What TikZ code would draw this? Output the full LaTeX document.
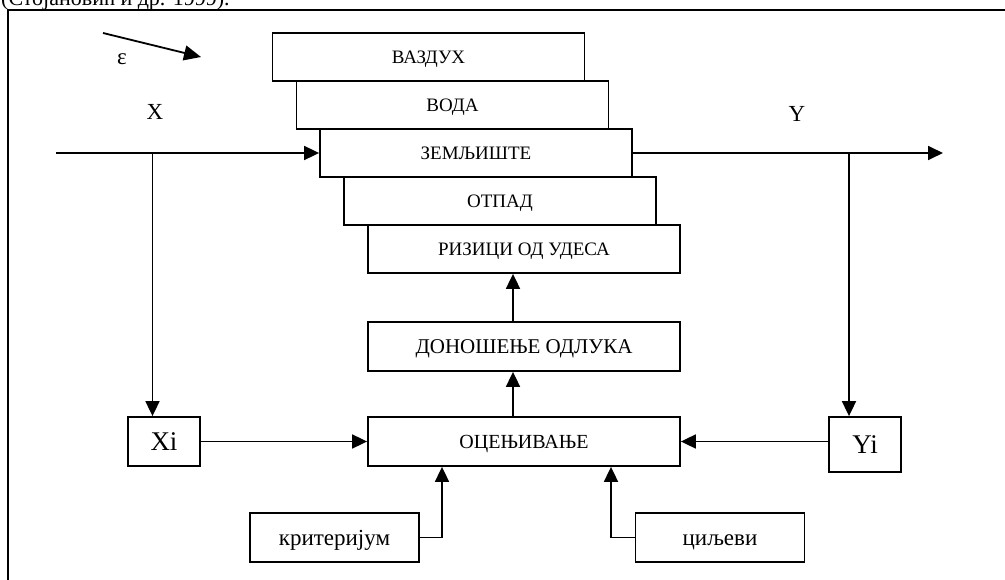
\documentclass[tikz,border=0pt]{standalone}
\usepackage{fontspec}
\setmainfont{Liberation Serif}
\usetikzlibrary{arrows.meta}
\tikzset{
  box/.style={draw, line width=1.8pt, fill=white, inner sep=0pt, text depth=0pt},
  stackbox/.style={box, minimum width=312pt, minimum height=48pt, font=\fontsize{19}{22}\selectfont, text height=12.5pt},
  bigbox/.style={box, minimum width=312pt, minimum height=49pt, font=\fontsize{21}{25}\selectfont, text height=13.9pt},
  smallbox/.style={box, minimum width=72pt, font=\fontsize{27}{30}\selectfont, text height=17.8pt},
  sidebox/.style={box, minimum width=169pt, minimum height=49pt, font=\fontsize{23}{26}\selectfont, text height=15.2pt},
  conn/.style={line width=1.8pt, -{Triangle[length=15pt,width=14pt]}},
  lbl/.style={font=\fontsize{23}{26}\selectfont, inner sep=0pt}
}
\begin{document}
\begin{tikzpicture}[x=1pt,y=-1pt]
\useasboundingbox (0,0) rectangle (1005,580);
\clip (0,0) rectangle (1005,580);
% caption line, cut off at the top
\node[anchor=base west, font=\fontsize{22}{26}\selectfont, inner sep=0pt] (cap) at (1,6) {(Стојановић и др. 1999).};
% frame
\draw[line width=2pt] (8,600) -- (8,10) -- (1020,10);
% epsilon
\coordinate (e1) at (103,33);
\coordinate (e2) at (201,57);
\draw[line width=1.8pt, -{Triangle[length=17pt,width=15pt]}] (e1) -- (e2);
\node[lbl] (eps) at (122,59) {ε};
\node[lbl] (xl) at (155,112) {X};
\node[lbl] (yl) at (797,114) {Y};
% stacked boxes
\node[stackbox] (vaz) at (428.5,57) {ВАЗДУХ};
\node[stackbox] (voda) at (452.5,105) {ВОДА};
\node[stackbox] (zem) at (476,153) {ЗЕМЉИШТЕ};
\node[stackbox] (otp) at (500,201) {ОТПАД};
\node[stackbox] (riz) at (524,249) {РИЗИЦИ ОД УДЕСА};
% decision and assessment
\node[bigbox] (don) at (524,346.5) {ДОНОШЕЊЕ ОДЛУКА};
\node[bigbox, font=\fontsize{20}{24}\selectfont, text height=13.2pt] (ocen) at (524,441.5) {ОЦЕЊИВАЊЕ};
\node[smallbox, minimum height=49pt] (xi) at (164,441.5) {Xi};
\node[smallbox, minimum height=55pt] (yi) at (865,444.5) {Yi};
\node[sidebox] (krit) at (334.5,537.5) {критеријум};
\node[sidebox] (cilj) at (720,537.5) {циљеви};
% main flow
\coordinate (xin) at (56,153);
\coordinate (yout) at (943,153);
\draw[conn] (xin) -- (zem.west);
\draw[conn] (zem.east) -- (yout);
\coordinate (xb) at (152.5,153);
\coordinate (yb) at (849,153);
\draw[conn] (xb) -- (xb |- xi.north);
\draw[conn] (yb) -- (yb |- yi.north);
\draw[conn] (xi.east) -- (xi.east -| ocen.west);
\draw[conn] (yi.west |- ocen.east) -- (ocen.east);
% upward arrows
\coordinate (u1) at (513,0);
\draw[conn] (ocen.north -| u1) -- (don.south -| u1);
\draw[conn] (don.north -| u1) -- (riz.south -| u1);
% criteria and goals
\coordinate (kc) at (442,0);
\coordinate (cc) at (611,0);
\draw[conn] (krit.east) -| (ocen.south -| kc);
\draw[conn] (cilj.west) -| (ocen.south -| cc);
\end{tikzpicture}
\end{document}
